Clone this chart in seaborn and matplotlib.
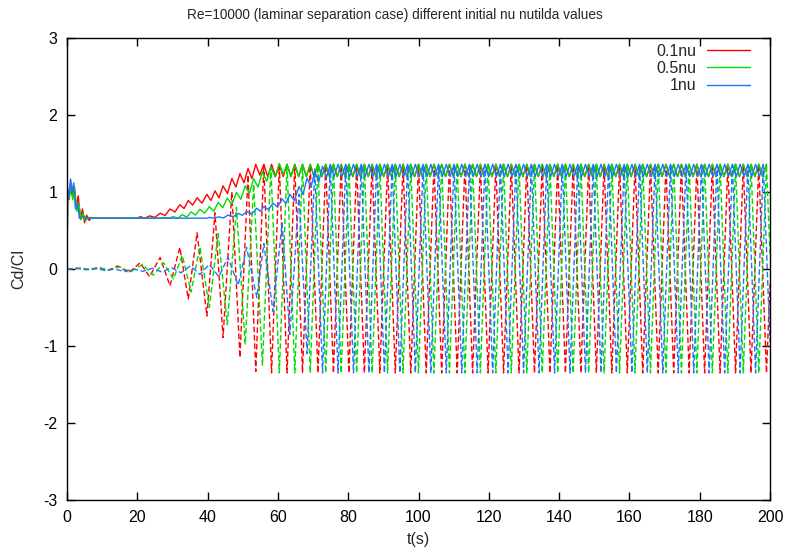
import numpy as np
import pandas as pd
import matplotlib
matplotlib.use("Agg")
import matplotlib.pyplot as plt
import seaborn as sns

# ---------------- data ----------------
series_names = ["0.1nu", "0.5nu", "1nu"]
series_colors = ["#ff0000", "#00dd00", "#1f74ff"]

# Lift (Cl) extrema: transient part
cl_t_red = [0.0, 4.0, 6.5, 9.0, 11.5, 14.5, 17.5, 20.8, 23.5, 26.5, 29.3, 32.1, 34.5, 37.0,
            39.8, 42.1, 44.4, 46.9, 49.2, 51.5, 53.7]
cl_v_red = [0.0, 0.01, -0.01, 0.02, -0.02, 0.04, -0.05, 0.08, -0.10, 0.15, -0.22, 0.28, -0.39, 0.47,
            -0.61, 0.73, -0.89, 1.00, -1.15, 1.22, -1.33]
cl_t_green = [0.0, 4.5, 7.0, 9.5, 12.0, 15.0, 18.0, 21.5, 24.5, 27.5, 30.3, 32.8, 35.3, 37.8,
              40.5, 43.0, 45.6, 48.2, 50.7, 53.1, 55.6, 58.0, 60.4]
cl_v_green = [0.0, 0.01, -0.01, 0.015, -0.015, 0.03, -0.04, 0.06, -0.08, 0.08, -0.13, 0.18, -0.30, 0.29,
              -0.50, 0.46, -0.72, 0.80, -0.98, 1.10, -1.25, 1.32, -1.35]
cl_t_blue = [0.0, 2.7, 5.4, 8.1, 10.8, 13.5, 16.2, 18.9, 21.6, 24.3, 27.0, 29.7, 32.4, 35.1,
             37.8, 40.5, 43.2, 45.8, 48.7, 51.1, 54.0, 56.0, 58.6, 61.2, 63.4, 66.0, 68.3, 70.5, 72.7]
cl_v_blue = [0.0, 0.01, -0.01, 0.01, -0.02, 0.0, -0.03, 0.0, -0.03, 0.01, -0.04, 0.02, -0.05, 0.04,
             -0.07, 0.06, -0.10, 0.15, -0.21, 0.28, -0.37, 0.33, -0.55, 0.60, -0.85, 0.97, -1.10, 1.30, -1.35]

# Lift (Cl) extrema: periodic (saturated) part
cl_ts_red = [56.0, 58.2, 60.4, 62.6, 64.8, 67.0, 69.2, 71.4, 73.6, 75.8,
             78.0, 80.2, 82.4, 84.6, 86.8, 89.0, 91.2, 93.4, 95.6, 97.8,
             100.0, 102.2, 104.4, 106.6, 108.8, 111.0, 113.2, 115.4, 117.6, 119.8,
             122.0, 124.2, 126.4, 128.6, 130.8, 133.0, 135.2, 137.4, 139.6, 141.8,
             144.0, 146.2, 148.4, 150.6, 152.8, 155.0, 157.2, 159.4, 161.6, 163.8,
             166.0, 168.2, 170.4, 172.6, 174.8, 177.0, 179.2, 181.4, 183.6, 185.8,
             188.0, 190.2, 192.4, 194.6, 196.8, 199.0]
cl_ts_green = [62.6, 64.8, 67.0, 69.2, 71.4, 73.6, 75.8, 78.0, 80.2, 82.4,
               84.6, 86.8, 89.0, 91.2, 93.4, 95.6, 97.8, 100.0, 102.2, 104.4,
               106.6, 108.8, 111.0, 113.2, 115.4, 117.6, 119.8, 122.0, 124.2, 126.4,
               128.6, 130.8, 133.0, 135.2, 137.4, 139.6, 141.8, 144.0, 146.2, 148.4,
               150.6, 152.8, 155.0, 157.2, 159.4, 161.6, 163.8, 166.0, 168.2, 170.4,
               172.6, 174.8, 177.0, 179.2, 181.4, 183.6, 185.8, 188.0, 190.2, 192.4,
               194.6, 196.8, 199.0]
cl_ts_blue = [74.9, 77.1, 79.3, 81.5, 83.7, 85.9, 88.1, 90.3, 92.5, 94.7,
              96.9, 99.1, 101.3, 103.5, 105.7, 107.9, 110.1, 112.3, 114.5, 116.7,
              118.9, 121.1, 123.3, 125.5, 127.7, 129.9, 132.1, 134.3, 136.5, 138.7,
              140.9, 143.1, 145.3, 147.5, 149.7, 151.9, 154.1, 156.3, 158.5, 160.7,
              162.9, 165.1, 167.3, 169.5, 171.7, 173.9, 176.1, 178.3, 180.5, 182.7,
              184.9, 187.1, 189.3, 191.5, 193.7, 195.9, 198.1]
cl_vs_red = [1.35, -1.35] * 33
cl_vs_green = [1.35, -1.35] * 31 + [1.35]
cl_vs_blue = [1.35, -1.35] * 28 + [1.35]
cl_end = [-0.2, 0.2, -0.95]          # value at t = 200
t_end = 200.0

# Drag (Cd): start-up spike and flat plateau
cd_t0_red = [0.0, 0.2, 0.6, 1.0, 1.5, 2.0, 2.6, 3.2, 3.8, 4.4, 5.0, 5.6, 6.3, 7.0, 8.0, 20.0]
cd_v0_red = [0.10, 0.95, 0.90, 1.12, 0.95, 1.08, 0.80, 0.95, 0.65, 0.78, 0.60, 0.70, 0.63, 0.67, 0.66, 0.66]
cd_t0_green = [0.0, 0.2, 0.7, 1.1, 1.6, 2.2, 2.8, 3.4, 4.0, 4.6, 5.3, 6.2, 7.5, 27.0]
cd_v0_green = [0.10, 1.00, 0.92, 1.15, 0.90, 1.05, 0.75, 0.85, 0.64, 0.72, 0.63, 0.67, 0.66, 0.66]
cd_t0_blue = [0.0, 0.2, 0.6, 1.0, 1.4, 1.9, 2.4, 3.0, 3.5, 4.5, 6.0, 40.0]
cd_v0_blue = [0.0, 1.05, 0.95, 1.17, 1.00, 1.12, 0.78, 0.85, 0.66, 0.68, 0.66, 0.66]

# Drag peaks (at lift extrema) and troughs (between them) while growing
cd_hi_red = [0.68, 0.69, 0.725, 0.78, 0.835, 0.89, 0.925, 0.97, 1.015, 1.08, 1.175, 1.24, 1.305, 1.36]
cd_lo_red = [0.66, 0.67, 0.695, 0.74, 0.785, 0.83, 0.855, 0.89, 0.925, 0.98, 1.065, 1.12, 1.175, 1.22]
cd_hi_green = [0.67, 0.68, 0.705, 0.74, 0.775, 0.81, 0.865, 0.92, 0.995, 1.08, 1.175, 1.26, 1.325, 1.37]
cd_lo_green = [0.66, 0.66, 0.675, 0.70, 0.725, 0.75, 0.795, 0.84, 0.905, 0.98, 1.065, 1.14, 1.195, 1.23]
cd_hi_blue = [0.67, 0.678, 0.70, 0.722, 0.745, 0.79, 0.81, 0.855, 0.91, 0.97, 1.07, 1.18, 1.27, 1.335]
cd_lo_blue = [0.66, 0.662, 0.68, 0.698, 0.715, 0.75, 0.77, 0.805, 0.85, 0.89, 0.97, 1.06, 1.13, 1.185]
cd_hi_sat = 1.36
cd_lo_sat = 1.20

x_ticks = [0, 20, 40, 60, 80, 100, 120, 140, 160, 180, 200]
y_ticks = [-3, -2, -1, 0, 1, 2, 3]
title = "Re=10000 (laminar separation case) different initial nu nutilda values"

# ---------------- build tables ----------------
def lift_table(t_tr, v_tr, t_s, v_s, v_end):
    t = list(t_tr) + list(t_s) + [t_end]
    v = list(v_tr) + list(v_s) + [v_end]
    return pd.DataFrame({"t": t, "v": v})

def drag_table(t0, v0, lt_all, hi_all, lo_all):
    t = list(t0)
    v = list(v0)
    for i in range(len(lt_all)):
        t.append(lt_all[i]); v.append(hi_all[i])
        if i + 1 < len(lt_all):
            t.append(0.5 * (lt_all[i] + lt_all[i + 1])); v.append(lo_all[i])
    return pd.DataFrame({"t": t, "v": v})

lift_sets = [
    (cl_t_red, cl_v_red, cl_ts_red, cl_vs_red, cl_end[0]),
    (cl_t_green, cl_v_green, cl_ts_green, cl_vs_green, cl_end[1]),
    (cl_t_blue, cl_v_blue, cl_ts_blue, cl_vs_blue, cl_end[2]),
]
drag_sets = [
    (cd_t0_red, cd_v0_red, cd_hi_red, cd_lo_red),
    (cd_t0_green, cd_v0_green, cd_hi_green, cd_lo_green),
    (cd_t0_blue, cd_v0_blue, cd_hi_blue, cd_lo_blue),
]

sns.set_theme(style="ticks")
plt.rcParams["font.family"] = ["Liberation Sans", "DejaVu Sans"]

fig = plt.figure(figsize=(7.89, 5.54), dpi=100)
ax = fig.add_axes([67 / 789, 1 - 500 / 554, (770 - 67) / 789, (500 - 38) / 554])

for k in range(3):
    t_tr, v_tr, t_s, v_s, v_end = lift_sets[k]
    t0, v0, hi, lo = drag_sets[k]
    lt_full = list(t_tr) + list(t_s)
    start = next(i for i, tt in enumerate(lt_full) if tt > t0[-1])
    lt_osc = lt_full[start:]
    n_tr = len(hi)
    hi_all = list(hi) + [cd_hi_sat] * (len(lt_osc) - n_tr)
    lo_all = list(lo) + [cd_lo_sat] * (len(lt_osc) - n_tr)
    d_cd = drag_table(t0, v0, lt_osc, hi_all, lo_all)
    d_cl = lift_table(t_tr, v_tr, t_s, v_s, v_end)
    sns.lineplot(data=d_cd, x="t", y="v", ax=ax, color=series_colors[k], lw=1.0,
                 estimator=None, label=series_names[k])
    sns.lineplot(data=d_cl, x="t", y="v", ax=ax, color=series_colors[k], lw=1.0,
                 estimator=None, linestyle=(0, (4, 2)), label="_nolegend_")

ax.set_xlim(0, 200)
ax.set_ylim(-3, 3)
ax.set_xticks(x_ticks)
ax.set_yticks(y_ticks)
ax.set_xticklabels([str(v) for v in x_ticks])
ax.set_yticklabels([str(v) for v in y_ticks])
ax.tick_params(direction="in", top=True, right=True, length=6, width=1,
               labelsize=11.5, colors="black", pad=7)
for sp in ax.spines.values():
    sp.set_visible(True)
    sp.set_color("black")
    sp.set_linewidth(1.0)

fig.text(394.5 / 789, 1 - 15 / 554, title, fontsize=9.8, ha="center", va="center")
ax.set_xlabel("t(s)", fontsize=11.5, labelpad=5)
ax.set_ylabel("Cd/Cl", fontsize=11.5, labelpad=12)

leg = ax.legend(loc="upper right", bbox_to_anchor=(1 - 14 / 703, 1.0),
                frameon=False, markerfirst=False,
                handlelength=2.7, fontsize=11.5, borderaxespad=0.0,
                labelspacing=0.15, handletextpad=0.7, borderpad=0.35)
for txt in leg.get_texts():
    txt.set_ha("right")

fig.savefig("out.png", dpi=100)
